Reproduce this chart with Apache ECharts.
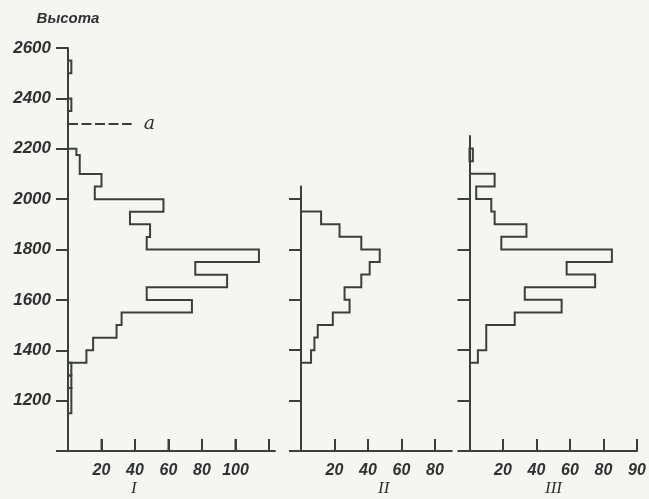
<!DOCTYPE html>
<html>
<head>
<meta charset="utf-8">
<script src="https://cdn.jsdelivr.net/npm/echarts@6/dist/echarts.min.js"></script>
<style>
html,body{margin:0;padding:0;background:#f5f5f2;}
#chart{width:649px;height:499px;}
</style>
</head>
<body>
<div id="chart"></div>
<script>
// ---- Data (heights in m, counts per height bin) ----
// Panel I: contiguous histogram, bin edges from top to bottom, counts per bin
const edgesI  = [2200, 2175, 2100, 2050, 2000, 1950, 1900, 1850, 1800, 1750, 1700, 1650, 1600, 1550, 1500, 1450, 1400, 1350];
const countsI = [5, 7, 20, 16, 57, 37, 49, 47, 114, 76, 95, 47, 74, 32, 29, 15, 11];
// isolated small bins: [low, high, count]
const isolatedI = [[2500, 2550, 2], [2350, 2400, 2], [1300, 1350, 2], [1250, 1300, 2], [1150, 1250, 2]];

// Panel II
const edgesII  = [1950, 1900, 1850, 1800, 1750, 1700, 1650, 1600, 1550, 1500, 1450, 1400, 1350];
const countsII = [12, 23, 36, 47, 41, 36, 26, 29, 19, 10, 8, 6];

// Panel III
const edgesIII  = [2100, 2050, 2000, 1950, 1900, 1850, 1800, 1750, 1700, 1650, 1600, 1550, 1500, 1450, 1400, 1350];
const countsIII = [15, 4, 13, 15, 34, 19, 85, 58, 75, 33, 55, 27, 10, 10, 5];
const isolatedIII = [[2150, 2200, 2]];

// Reference level "a"
const levelA = 2300;
const levelAEnd = 38;

// Tick values / labels
const yTicksI = [1000, 1200, 1400, 1600, 1800, 2000, 2200, 2400, 2600];
const yTicksOther = [1000, 1200, 1400, 1600, 1800, 2000];
const yLabelsI = [1200, 1400, 1600, 1800, 2000, 2200, 2400, 2600];
const xTicksI = [20, 40, 60, 80, 100, 120];
const xLabelsI = [20, 40, 60, 80, 100];
const xTicksII = [20, 40, 60, 80];
const xLabelsII = [20, 40, 60, 80];
const xTicksIII = [20, 40, 60, 80, 100];
const xLabelTextIII = ['20', '40', '60', '80', '90'];
const panelNames = ['I', 'II', 'III'];
const yName = 'Высота';

// ---- Styles ----
const INK = '#3a403e';
const TXT = '#2e3231';
const TICK_LEN = 12;
const fontBase = {fontFamily: 'Liberation Sans', fontStyle: 'italic', fontWeight: 'bold', color: TXT};

function outline(edges, counts) {
  const pts = [[0, edges[0]]];
  counts.forEach((c, i) => { pts.push([c, edges[i]]); pts.push([c, edges[i + 1]]); });
  pts.push([0, edges[edges.length - 1]]);
  return pts;
}

function rectSeries(idx, bins) {
  return {
    type: 'custom', xAxisIndex: idx, yAxisIndex: idx, silent: true,
    data: bins.map(b => [b[0], b[1], b[2]]),
    encode: {x: 2, y: [0, 1]},
    renderItem(params, api) {
      const p1 = api.coord([0, api.value(1)]);
      const p2 = api.coord([api.value(2), api.value(0)]);
      return {type: 'rect', shape: {x: p1[0], y: p1[1], width: p2[0] - p1[0], height: p2[1] - p1[1]},
              style: {fill: 'none', stroke: INK, lineWidth: 2}};
    }
  };
}

// upward tick marks on the bottom axis of a panel, placed through the axis scale
function tickSeries(idx, ticks, baseY) {
  return {
    type: 'custom', xAxisIndex: idx, yAxisIndex: idx, silent: true, z: 10, clip: false,
    data: ticks.map(v => [v, baseY]),
    encode: {x: 0, y: 1},
    renderItem(params, api) {
      const p = api.coord([api.value(0), api.value(1)]);
      return {type: 'line', shape: {x1: p[0], y1: p[1], x2: p[0], y2: p[1] - TICK_LEN},
              style: {stroke: INK, lineWidth: 2, fill: null}};
    }
  };
}

function lineSeries(idx, edges, counts, extra) {
  return Object.assign({
    type: 'line', xAxisIndex: idx, yAxisIndex: idx, silent: true,
    data: outline(edges, counts), showSymbol: false, symbol: 'none',
    lineStyle: {color: INK, width: 2, join: 'miter'}
  }, extra || {});
}

function xAxis(idx, max, ticks, fmt, showMax) {
  const tick = {show: true, inside: true, length: TICK_LEN, lineStyle: {color: INK, width: 2}};
  if (ticks) tick.customValues = ticks;
  return {
    type: 'value', gridIndex: idx, min: 0, max: max, interval: 20, z: 10,
    axisLine: {show: true, onZero: false, lineStyle: {color: INK, width: 2}},
    axisTick: tick,
    axisLabel: Object.assign({show: true, margin: 12, fontSize: 16, showMaxLabel: showMax, formatter: fmt}, fontBase),
    splitLine: {show: false}
  };
}

function yAxis(idx, max, ticks, showLabels) {
  return {
    type: 'value', gridIndex: idx, min: 1000, max: max, interval: 200,
    axisLine: {show: true, onZero: false, lineStyle: {color: INK, width: 2}},
    axisTick: {show: true, inside: false, length: TICK_LEN, customValues: ticks, lineStyle: {color: INK, width: 2}},
    axisLabel: Object.assign({show: showLabels, margin: 17, fontSize: 17,
      formatter: v => (yLabelsI.indexOf(v) >= 0 ? String(v) : '')}, fontBase),
    splitLine: {show: false}
  };
}

const chart = echarts.init(document.getElementById('chart'), null, {renderer: 'canvas'});
const yAxes = [yAxis(0, 2600, yTicksI, true), yAxis(1, 2050, yTicksOther, false), yAxis(2, 2250, yTicksOther, false)];
yAxes[0].name = yName;
yAxes[0].nameLocation = 'end';
yAxes[0].nameGap = 22;
yAxes[0].nameTextStyle = Object.assign({fontSize: 15, align: 'center', verticalAlign: 'bottom'}, fontBase);

const xAxes = [
  xAxis(0, 123.6, xTicksI, v => (xLabelsI.indexOf(v) >= 0 ? String(v) : ''), false),
  xAxis(1, 90, xTicksII, v => (xLabelsII.indexOf(v) >= 0 ? String(v) : ''), false),
  xAxis(2, 100, xTicksIII, v => xLabelTextIII[xTicksIII.indexOf(v)] || '', true)
];

chart.setOption({
  backgroundColor: '#f5f5f2',
  animation: false,
  grid: [
    {left: 68, top: 48, width: 207, height: 403},
    {left: 301, top: 186.4, width: 150.75, height: 264.6},
    {left: 469.5, top: 136, width: 167.5, height: 315}
  ],
  xAxis: xAxes,
  yAxis: yAxes,
  series: [
    lineSeries(0, edgesI, countsI, {
      markLine: {
        silent: true, symbol: 'none', animation: false,
        lineStyle: {color: INK, width: 2, type: [10, 3.5]},
        label: {show: true, position: 'end', formatter: 'a', distance: 12,
                fontFamily: 'DejaVu Serif', fontStyle: 'italic', fontSize: 19, color: TXT},
        data: [[{coord: [0, levelA]}, {coord: [levelAEnd, levelA]}]]
      }
    }),
    rectSeries(0, isolatedI),
    tickSeries(0, xTicksI, 1000),
    lineSeries(1, edgesII, countsII),
    lineSeries(2, edgesIII, countsIII),
    rectSeries(2, isolatedIII)
  ],
  graphic: [
    {type: 'text', left: 131, top: 480, style: {text: panelNames[0], font: 'italic 17px "Liberation Serif"', fill: TXT}},
    {type: 'text', left: 378, top: 480, style: {text: panelNames[1], font: 'italic 17px "Liberation Serif"', fill: TXT}},
    {type: 'text', left: 545, top: 480, style: {text: panelNames[2], font: 'italic 17px "Liberation Serif"', fill: TXT}}
  ]
});
</script>
</body>
</html>
